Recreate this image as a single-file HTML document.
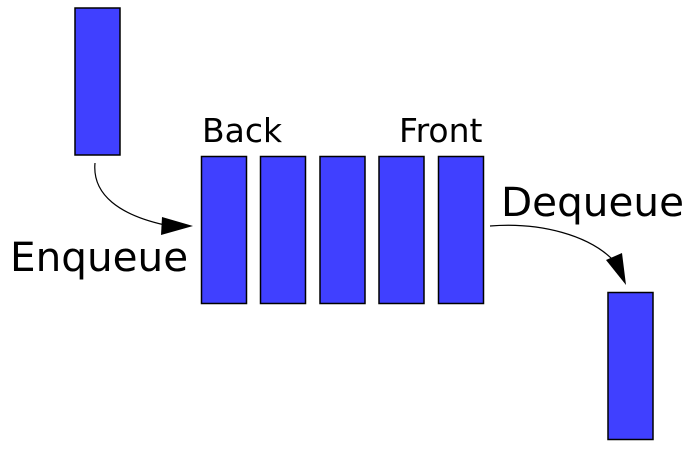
<!DOCTYPE html>
<html><head><style>html,body{margin:0;padding:0;background:#fff}</style></head><body>
<svg width="685" height="448" xmlns="http://www.w3.org/2000/svg" font-family="DejaVu Sans, sans-serif">
<g fill="#4040ff" stroke="#000" stroke-width="1.5">
<rect x="75" y="8" width="45" height="147"/>
<rect x="201.5" y="156.5" width="45" height="147"/>
<rect x="260.5" y="156.5" width="45" height="147"/>
<rect x="320" y="156.5" width="45" height="147"/>
<rect x="379" y="156.5" width="45" height="147"/>
<rect x="438.5" y="156.5" width="45" height="147"/>
<rect x="608" y="292.5" width="45" height="147"/>
</g>
<path d="M95,163 C92,195 120,215 165,225" fill="none" stroke="#000" stroke-width="1.2"/>
<polygon points="193,226 162,217 161,235" fill="#000"/>
<path d="M490,226 C540,222 590,235 615,262" fill="none" stroke="#000" stroke-width="1.2"/>
<polygon points="626,285 606,260 622,253" fill="#000"/>
<text x="202" y="142" font-size="33">Back</text>
<text x="399" y="142" font-size="33">Front</text>
<text x="10" y="271" font-size="40.5">Enqueue</text>
<text x="501" y="216" font-size="40.5">Dequeue</text>
</svg>
</body></html>
